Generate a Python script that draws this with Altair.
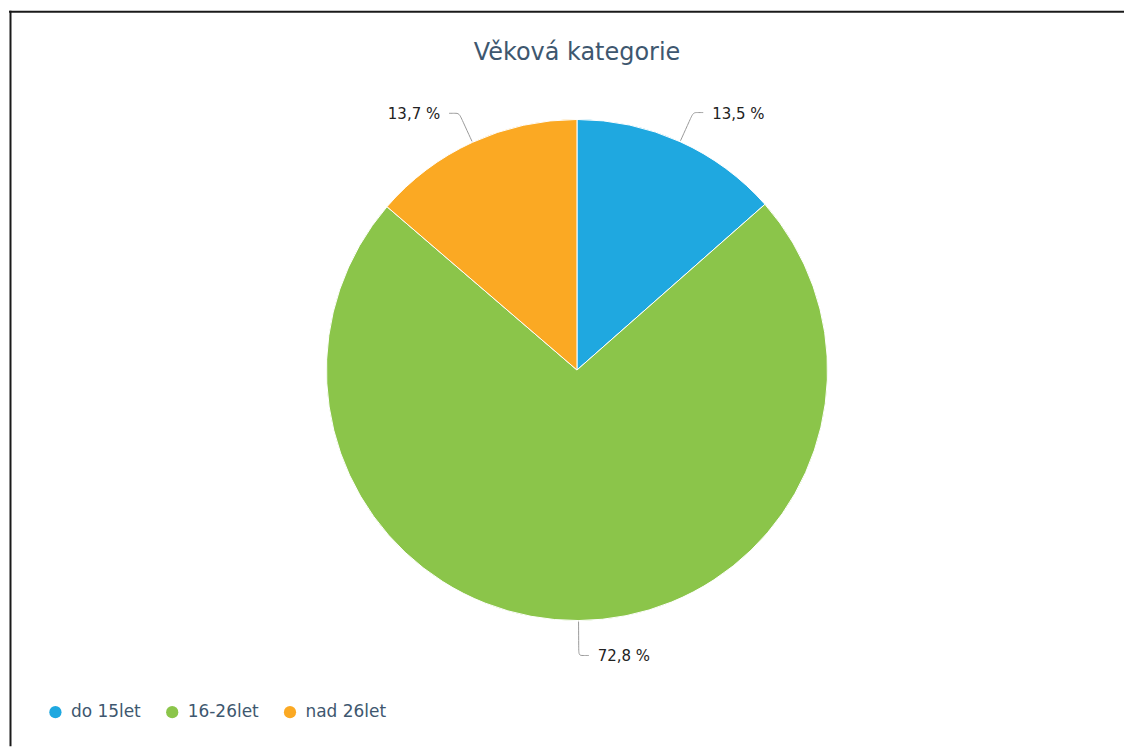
import math
import altair as alt
import pandas as pd

# ---- data ----
categories = ["do 15let", "16-26let", "nad 26let"]
values = [13.5, 72.8, 13.7]
value_labels = ["13,5 %", "72,8 %", "13,7 %"]
colors = ["#1FA8E0", "#8BC54A", "#FBA923"]
title_text = ["Věková kategorie"]

# ---- layout (view pixel coordinates) ----
W, H = 1117, 739
CX, CY, R = 569, 362, 251
R_BEND = 283
HOOK = 10
GAP = 9

pie_df = pd.DataFrame({"cat": categories, "value": values, "idx": range(len(values))})

total = sum(values)
conn_rows, lab_rows = [], []
cum = 0.0
for i, (c, v, lab) in enumerate(zip(categories, values, value_labels)):
    mid = (cum + v / 2) / total * 2 * math.pi
    cum += v
    s, co = math.sin(mid), math.cos(mid)
    side = 1 if s >= 0 else -1
    rb = R_BEND + (3 if co < 0 else 0)
    ax, ay = CX + (R + 1) * s, CY - (R + 1) * co
    p1x, p1y = CX + (rb - 7) * s, CY - (rb - 7) * co
    bx, by = CX + rb * s, CY - rb * co
    p2x, p2y = bx + side * 4, by
    ex, ey = bx + side * HOOK, by
    for k, (x, y) in enumerate([(ax, ay), (p1x, p1y), (bx, by), (p2x, p2y), (ex, ey)]):
        conn_rows.append({"cat": c, "k": k, "x": x, "y": y})
    lab_rows.append({"cat": c, "label": lab, "x": ex + side * GAP, "y": by, "side": side})

conn_df = pd.DataFrame(conn_rows)
lab_df = pd.DataFrame(lab_rows)

xs = alt.Scale(domain=[0, W], nice=False, zero=False)
ys = alt.Scale(domain=[H, 0], nice=False, zero=False)

color = alt.Color(
    "cat:N",
    scale=alt.Scale(domain=categories, range=colors),
    legend=alt.Legend(
        title=None,
        orient="none",
        direction="horizontal",
        legendX=38,
        legendY=696,
        symbolType="circle",
        symbolSize=150,
        symbolStrokeWidth=0,
        symbolOpacity=1,
        labelFont="DejaVu Sans",
        labelFontSize=17,
        labelColor="#3E576F",
        labelOffset=7,
        columnPadding=22,
    ),
)

pie = (
    alt.Chart(pie_df)
    .mark_arc(radius=R, x=CX, y=CY, stroke="white", strokeWidth=1)
    .encode(
        theta=alt.Theta("value:Q", stack=True),
        order=alt.Order("idx:Q"),
        color=color,
    )
)

connectors = (
    alt.Chart(conn_df)
    .mark_line(color="#9a9a9a", strokeWidth=1, interpolate="basis")
    .encode(
        x=alt.X("x:Q", scale=xs, axis=None),
        y=alt.Y("y:Q", scale=ys, axis=None),
        detail="cat:N",
        order="k:Q",
    )
)

lab_right = (
    alt.Chart(lab_df)
    .transform_filter("datum.side > 0")
    .mark_text(align="left", baseline="middle", font="DejaVu Sans", fontSize=15, color="#222222", dy=1)
    .encode(x=alt.X("x:Q", scale=xs, axis=None), y=alt.Y("y:Q", scale=ys, axis=None), text="label:N")
)
lab_left = (
    alt.Chart(lab_df)
    .transform_filter("datum.side < 0")
    .mark_text(align="right", baseline="middle", font="DejaVu Sans", fontSize=15, color="#222222", dy=1)
    .encode(x=alt.X("x:Q", scale=xs, axis=None), y=alt.Y("y:Q", scale=ys, axis=None), text="label:N")
)

title = (
    alt.Chart(pd.DataFrame({"t": title_text}))
    .mark_text(align="center", baseline="alphabetic", font="DejaVu Sans", fontSize=24, color="#3E576F")
    .encode(x=alt.value(CX), y=alt.value(51), text="t:N")
)

border_top = alt.Chart(pd.DataFrame({"a": [0]})).mark_rule(color="#1a1a1a", strokeWidth=2).encode(
    x=alt.value(0), x2=alt.value(W), y=alt.value(3)
)
border_left = alt.Chart(pd.DataFrame({"a": [0]})).mark_rule(color="#1a1a1a", strokeWidth=2).encode(
    x=alt.value(1.5), y=alt.value(2), y2=alt.value(H)
)

chart = (
    alt.layer(border_top, border_left, pie, connectors, lab_right, lab_left, title)
    .resolve_scale(color="independent")
    .properties(width=W, height=H, padding=0, background="white")
    .configure_view(stroke=None)
)

chart.save("out.html", embed_options={"renderer": "svg", "actions": False})
